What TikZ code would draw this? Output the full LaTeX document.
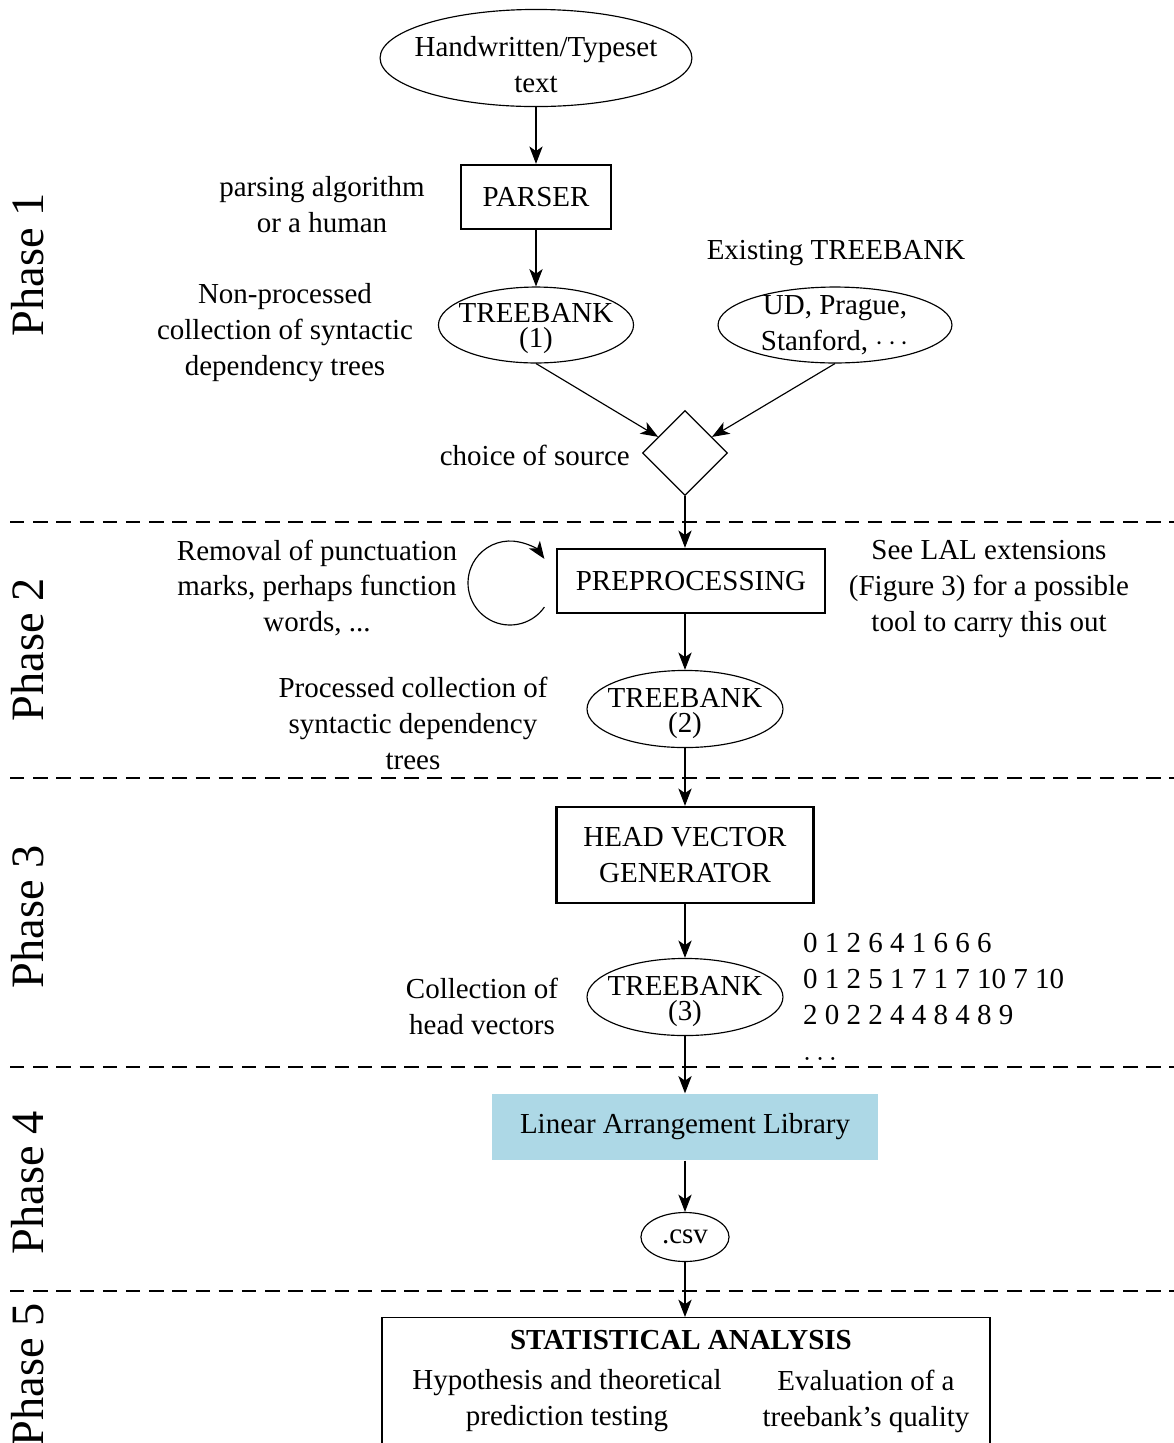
\documentclass[tikz,border=0pt]{standalone}
\usepackage{fontspec}
\setmainfont{Liberation Serif}
\usetikzlibrary{shapes.geometric,arrows.meta}
\definecolor{lalblue}{RGB}{173,216,230}
\newcommand\lift[1]{\rule{0pt}{#1}}

\begin{document}
\begin{tikzpicture}[x=0.345pt,y=-0.345pt,line width=0.4pt,
        font=\fontsize{10}{12.4}\selectfont,
        >={Stealth[length=6pt,width=4.6pt,inset=1.6pt]},
        bx/.style={rectangle, draw, line width=0.8pt, inner sep=2pt, align=center},
        el/.style={ellipse, draw, inner sep=-30pt, align=center},
        dm/.style={diamond, draw, inner sep=-30pt, minimum size=29.3pt},
        dl/.style={dash pattern=on 5pt off 3pt},
        ph/.style={rotate=90, font=\fontsize{16}{19}\selectfont}]
    \useasboundingbox (0,0) rectangle (1174,1443);

    % phase 1
    \node[ph] (ph1) at (28,265) {Phase 1};
    \node[el, minimum width=107.6pt, minimum height=33.5pt] (txt) at (536,58)
        {\lift{11.8pt}Handwritten/Typeset\\text};
    \node[bx, minimum width=51.8pt, minimum height=22.1pt] (parser) at (536,197) {PARSER};
    \node[align=center] (who) at (322,205) {parsing algorithm\\or a human};
    \node[el, minimum width=67.3pt, minimum height=26.2pt] (tb1) at (536,325)
        {\lift{9.2pt}TREEBANK\\[-3.8pt](1)};
    \node[align=center] (tb1note) at (285,333)
        {Non-processed\\collection of syntactic\\dependency trees};
    \node (exist) at (836,253) {Existing TREEBANK};
    \node[el, minimum width=80.7pt, minimum height=26.2pt] (ud) at (835,325)
        {UD, Prague,\\Stanford, $\cdots$};
    \node[dm] (choice) at (685,453) {};
    \node[anchor=east] (choicenote) at (640,455) {choice of source};
    \draw[->] (txt) -- (parser);
    \draw[->] (parser) -- (tb1);
    \draw[->] (tb1.south) -- (choice);
    \draw[->] (ud.south) -- (choice);
    \draw[dl] (10,522) -- (1174,522);

    % phase 2
    \node[ph] (ph2) at (28,650) {Phase 2};
    \node[bx, minimum width=92.5pt, minimum height=22.1pt] (prep) at (691,581) {PREPROCESSING};
    \draw[->] (510,583) ++(35:42) arc[start angle=35, end angle=325, radius=42];
    \node[align=center] (prepnote) at (317,588)
        {Removal of punctuation\\marks, perhaps function\\words, ...};
    \node[align=center] (extnote) at (989,589)
        {See LAL extensions\\(Figure 3) for a possible\\tool to carry this out};
    \node[el, minimum width=67.6pt, minimum height=26.6pt] (tb2) at (685,709)
        {\lift{9.5pt}TREEBANK\\[-3.8pt](2)};
    \node[align=center] (tb2note) at (413,723)
        {Processed collection of\\syntactic dependency\\trees};
    \draw[->] (choice) -- (choice |- prep.north);
    \draw[->] (tb2 |- prep.south) -- (tb2);
    \draw[dl] (10,778) -- (1174,778);

    % phase 3
    \node[ph] (ph3) at (28,917) {Phase 3};
    \node[bx, minimum width=88.7pt, minimum height=33.1pt] (hvg) at (685,855)
        {HEAD VECTOR\\GENERATOR};
    \node[el, minimum width=67.6pt, minimum height=26.6pt] (tb3) at (685,997)
        {\lift{9.5pt}TREEBANK\\[-3.8pt](3)};
    \node[align=center] (tb3note) at (482,1006) {Collection of\\head vectors};
    \node[align=left, anchor=west] (vecs) at (793,997)
        {0 1 2 6 4 1 6 6 6\\0 1 2 5 1 7 1 7 10 7 10\\2 0 2 2 4 4 8 4 8 9\\$\dots$};
    \draw[->] (tb2) -- (hvg);
    \draw[->] (hvg) -- (tb3);
    \draw[dl] (10,1067) -- (1174,1067);

    % phase 4
    \node[ph] (ph4) at (28,1183) {Phase 4};
    \node[fill=lalblue, minimum width=133.5pt, minimum height=22.8pt] (lal) at (685,1127)
        {Linear Arrangement Library};
    \node[el, minimum width=30.4pt, minimum height=16.9pt] (csv) at (685,1237) {.csv};
    \draw[->] (tb3) -- (lal);
    \draw[->] (lal) -- (csv);
    \draw[dl] (10,1291) -- (1174,1291);

    % phase 5
    \node[ph] (ph5) at (28,1375) {Phase 5};
    \node[draw, line width=0.5pt, anchor=north, minimum width=209.8pt, minimum height=60pt]
        (stat) at (686,1317) {};
    \node (stattitle) at (681,1340) {\textbf{STATISTICAL ANALYSIS}};
    \node[align=center] (hyp) at (567,1401) {Hypothesis and theoretical\\prediction testing};
    \node[align=center] (qual) at (866,1401) {Evaluation of a\\treebank's quality};
    \draw[->] (csv) -- (csv |- stat.north);
\end{tikzpicture}
\end{document}
